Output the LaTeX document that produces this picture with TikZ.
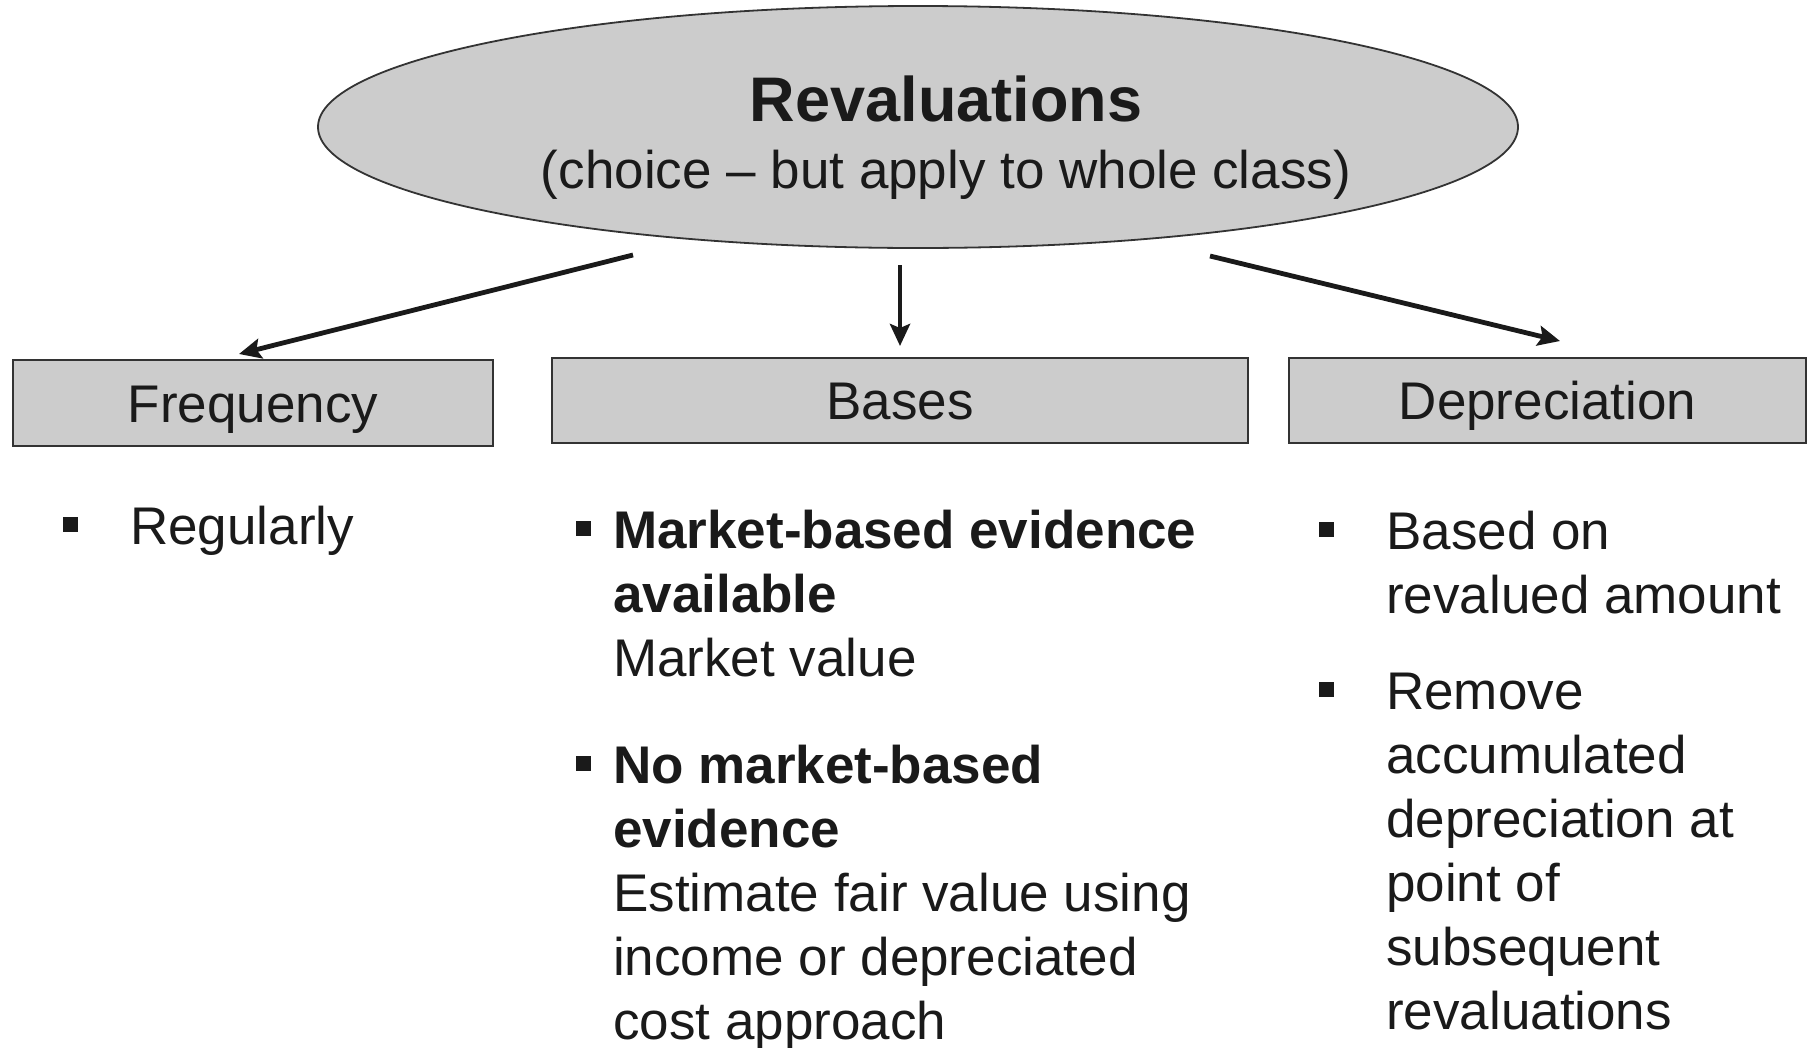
\documentclass[tikz,border=0pt]{standalone}
\usepackage{fontspec}
\setmainfont{Liberation Sans}
\usetikzlibrary{shapes.geometric,arrows.meta}
\definecolor{boxfill}{HTML}{CCCCCC}
\definecolor{ink}{HTML}{1A1A1A}
\definecolor{edge}{HTML}{333333}
\tikzset{
  big/.style={font=\fontsize{53}{64}\selectfont},
  catbox/.style={draw=edge, line width=1.8pt, fill=boxfill, inner sep=0pt,
    text height=38pt, text depth=0pt, text=ink, big},
  txt/.style={anchor=base west, inner sep=0pt, text=ink, big},
  bul/.style={fill=ink, draw=none, minimum size=15pt, inner sep=0pt},
  link/.style={draw=ink, line width=4.8pt,
    -{Stealth[length=22pt, width=20pt, inset=4pt]}},
}
\begin{document}
\begin{tikzpicture}[x=1pt, y=-1pt]
\useasboundingbox (0,0) rectangle (1810,1047);

% top ellipse
\node[ellipse, draw=edge, line width=1.8pt, fill=boxfill,
      minimum width=1200pt, minimum height=242pt, inner sep=0pt] (rev) at (918,127) {};
\node[anchor=base, inner sep=0pt, text=ink, font=\fontsize{63}{66}\bfseries] (revt) at (946,121) {Revaluations};
\node[anchor=base, inner sep=0pt, text=ink, big] (revs) at (946,188) {(choice -- but apply to whole class)};

% category boxes
\node[catbox, minimum width=480pt, minimum height=86pt] (freq) at (253,403) {Frequency};
\node[catbox, minimum width=696pt, minimum height=85pt] (bases) at (900,400.5) {Bases};
\node[catbox, minimum width=517pt, minimum height=85pt] (depr) at (1547.5,400.5) {Depreciation};

% connector ends
\coordinate (l0) at (633,255);
\coordinate (l1) at (239,354);
\coordinate (m0) at (900,265);
\coordinate (m1) at (900,346);
\coordinate (r0) at (1210,256);
\coordinate (r1) at (1560,341);
\draw[link] (l0) -- (l1);
\draw[link] (m0) -- (m1);
\draw[link] (r0) -- (r1);

% frequency column
\node[bul] (fb1) at (70,524) {};
\node[txt] (ft1) at (130,544) {Regularly};

% bases column
\node[bul] (bb1) at (583,528) {};
\node[txt] (bt1) at (613,548) {\vtop{\hbox{\bfseries Market-based evidence}\hbox{\bfseries available}\hbox{Market value}}};
\node[bul] (bb2) at (583,763) {};
\node[txt] (bt2) at (613,783) {\vtop{\hbox{\bfseries No market-based}\hbox{\bfseries evidence}\hbox{Estimate fair value using}\hbox{income or depreciated}\hbox{cost approach}}};

% depreciation column
\node[bul] (db1) at (1326,529) {};
\node[txt] (dt1) at (1386,549) {\vtop{\hbox{Based on}\hbox{revalued amount}}};
\node[bul] (db2) at (1326,689) {};
\node[txt] (dt2) at (1386,709) {\vtop{\hbox{Remove}\hbox{accumulated}\hbox{depreciation at}\hbox{point of}\hbox{subsequent}\hbox{revaluations}}};
\end{tikzpicture}
\end{document}
